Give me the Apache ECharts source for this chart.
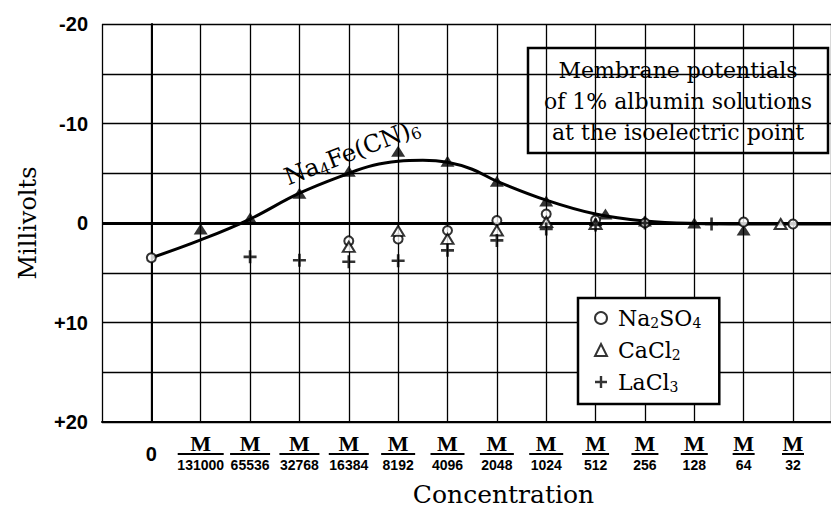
<!DOCTYPE html>
<html><head><meta charset="utf-8">
<script src="https://cdn.jsdelivr.net/npm/echarts@6/dist/echarts.min.js"></script>
<style>html,body{margin:0;padding:0;background:#fff}#c{width:831px;height:508px}</style>
</head><body><div id="c"></div>
<script>
// Concentration categories (denominators of M/x); index 0 = zero concentration
const categories = ['0','131000','65536','32768','16384','8192','4096','2048','1024','512','256','128','64','32'];
// Y tick labels (millivolts)
const yTickLabels = {'-20':'-20','-10':'-10','0':'0','10':'+10','20':'+20'};
// Smooth fitted curve for Na4Fe(CN)6  [category index, mV]
const curve = [[0,3.5],[1,1.7],[2,-0.4],[3,-3.0],[4,-5.0],[4.5,-5.8],[5,-6.2],[5.5,-6.3],[6,-6.1],[6.5,-5.4],[7,-4.2],[8,-2.3],[9,-0.9],[10,-0.2],[11,0.05],[12,0.1],[13,0.1],[13.77,0.1]];
// Measured points
const na4fe  = [[1,0.6],[2,-0.5],[3,-3.0],[4,-5.2],[5,-7.2],[6,-6.2],[7,-4.2],[8,-2.2],[9.2,-0.9],[10,-0.2],[11,0.0],[12,0.7]];
const na2so4 = [[0,3.5],[4,1.8],[5,1.6],[6,0.75],[7,-0.25],[8,-0.9],[9,-0.3],[10,0.0],[12,-0.1],[13,0.1]];
const cacl2  = [[4,2.4],[5,0.8],[6,1.6],[7,0.75],[8,-0.1],[9,0.1],[12.75,0.1]];
const lacl3  = [[2,3.4],[3,3.75],[4,3.9],[5,3.8],[6,2.75],[7,1.75],[8,0.6],[9,0.2],[10,0.0],[11.35,0.1]];

const legendLabels = {
  'Na2SO4': '{g| }{n|Na}{s|2}{n|SO}{s|4}',
  'CaCl2': '{g| }{n|CaCl}{s|2}',
  'LaCl3': '{g| }{n|LaCl}{s|3}'
};
const PLUS = 'path://M4,0H6V4H10V6H6V10H4V6H0V4H4Z';
const serif = '"DejaVu Serif", serif';
const sans = '"Liberation Sans", sans-serif';

const chart = echarts.init(document.getElementById('c'), null, {renderer: 'svg'});
chart.setOption({
  animation: false,
  backgroundColor: '#fff',
  grid: {left: 102, top: 24, width: 729, height: 398, outerBoundsMode: 'none', containLabel: false},
  xAxis: {
    type: 'value', min: -1, max: 13.77, interval: 1,
    axisLine: {onZero: false, lineStyle: {color: '#000', width: 2}},
    axisTick: {show: false},
    splitLine: {show: true, lineStyle: {color: '#000', width: 1.3}},
    axisLabel: {
      margin: 12, color: '#000', hideOverlap: false, showMaxLabel: false,
      formatter: function (v) {
        const i = Math.round(v);
        if (Math.abs(v - i) > 1e-6 || i < 0 || i >= categories.length) return '';
        if (i === 0) return '{z|0}';
        const d = categories[i];
        return '{m|M}\n{b' + d.length + '| }\n{d|' + d + '}';
      },
      rich: {
        z: {fontFamily: sans, fontWeight: 'bold', fontSize: 20, lineHeight: 40, color: '#000'},
        m: {fontFamily: '"Liberation Serif", serif', fontWeight: 'bold', fontSize: 22, lineHeight: 18, color: '#000'},
        d: {fontFamily: sans, fontWeight: 'bold', fontSize: 14, lineHeight: 18, color: '#000'},
        b2: {width: 22, height: 2, lineHeight: 4, fontSize: 2, backgroundColor: '#000'},
        b3: {width: 27, height: 2, lineHeight: 4, fontSize: 2, backgroundColor: '#000'},
        b4: {width: 34, height: 2, lineHeight: 4, fontSize: 2, backgroundColor: '#000'},
        b5: {width: 40, height: 2, lineHeight: 4, fontSize: 2, backgroundColor: '#000'},
        b6: {width: 46, height: 2, lineHeight: 4, fontSize: 2, backgroundColor: '#000'}
      }
    },
    name: 'Concentration', nameLocation: 'middle', nameGap: 60,
    nameTextStyle: {fontFamily: serif, fontSize: 25, color: '#000', padding: [0, 0, 0, 74]}
  },
  yAxis: {
    type: 'value', inverse: true, min: -20, max: 20, interval: 5,
    axisLine: {show: true, lineStyle: {color: '#000', width: 2}},
    axisTick: {show: false},
    splitLine: {show: true, lineStyle: {color: '#000', width: 1.3}},
    axisLabel: {
      margin: 14, color: '#000', fontFamily: sans, fontWeight: 'bold', fontSize: 20,
      formatter: function (v) { return yTickLabels[String(v)] || ''; }
    },
    name: 'Millivolts', nameLocation: 'middle', nameGap: 62, nameRotate: 90,
    nameTextStyle: {fontFamily: serif, fontSize: 24, color: '#000'}
  },
  legend: {
    orient: 'vertical', left: 578, top: 298,
    data: ['Na2SO4', 'CaCl2', 'LaCl3'],
    selectedMode: false,
    backgroundColor: '#fff', borderColor: '#000', borderWidth: 2.5, borderRadius: 0,
    padding: [8, 18, 10, 16], itemGap: 8, itemWidth: 12, itemHeight: 12,
    formatter: function (n) { return legendLabels[n]; },
    textStyle: {
      color: '#000', fontFamily: serif, fontSize: 22,
      rich: {
        g: {width: 6, fontSize: 10, lineHeight: 24},
        n: {fontFamily: serif, fontSize: 22, color: '#000', lineHeight: 24},
        s: {fontFamily: serif, fontSize: 14, color: '#000', padding: [10, 0, 0, 0], lineHeight: 24}
      }
    }
  },
  series: [
    {
      name: 'curve', type: 'line', data: curve, smooth: 0.4, showSymbol: false, symbol: 'none',
      lineStyle: {color: '#000', width: 3}, z: 2,
      markLine: {silent: true, symbol: 'none', label: {show: false},
        lineStyle: {color: '#000', width: 3, type: 'solid'}, data: [{yAxis: 0}]}
    },
    {name: 'Na4Fe(CN)6', type: 'scatter', data: na4fe, symbol: 'triangle', symbolSize: [14, 11],
      itemStyle: {color: '#000'}, z: 4},
    {name: 'Na2SO4', type: 'scatter', data: na2so4, symbol: 'emptyCircle', symbolSize: 9,
      itemStyle: {color: '#000', borderColor: '#000', borderWidth: 2}, z: 5},
    {name: 'CaCl2', type: 'scatter', data: cacl2, symbol: 'emptyTriangle', symbolSize: [12, 10],
      itemStyle: {color: '#000', borderColor: '#000', borderWidth: 2}, z: 5},
    {name: 'LaCl3', type: 'scatter', data: lacl3, symbol: PLUS, symbolSize: 13,
      itemStyle: {color: '#000'}, z: 5}
  ],
  graphic: [
    {type: 'group', z: 100, children: [
      {type: 'rect', shape: {x: 528, y: 48, width: 300, height: 105},
        style: {fill: '#fff', stroke: '#000', lineWidth: 2.5}},
      {type: 'text', x: 678, y: 101,
        style: {text: 'Membrane potentials\nof 1% albumin solutions\nat the isoelectric point',
          fontFamily: serif, fontSize: 22, lineHeight: 31, fill: '#000',
          align: 'center', verticalAlign: 'middle', textAlign: 'center', textVerticalAlign: 'middle'}}
    ]},
    {type: 'text', z: 100, x: 352, y: 152, rotation: 0.37,
      style: {text: '{a|Na}{s|4}{a|Fe(CN)}{s|6}', fill: '#000',
        align: 'center', verticalAlign: 'middle', textAlign: 'center', textVerticalAlign: 'middle',
        rich: {
          a: {fontFamily: serif, fontSize: 24, fill: '#000', color: '#000', lineHeight: 28},
          s: {fontFamily: serif, fontSize: 16, fill: '#000', color: '#000', padding: [12, 0, 0, 0], lineHeight: 28}
        }}}
  ]
});
</script></body></html>
